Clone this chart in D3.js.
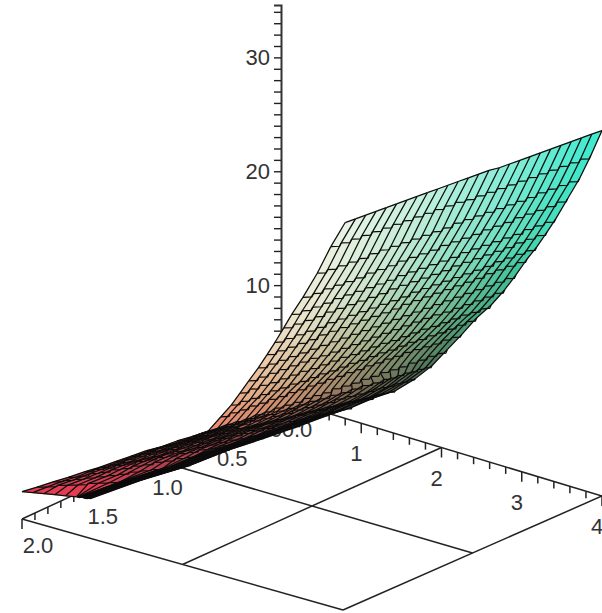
<!DOCTYPE html>
<html>
<head>
<meta charset="utf-8">
<script src="https://cdn.jsdelivr.net/npm/d3@7"></script>
<style>
body { margin: 0; background: #fff; }
text { font-family: "Liberation Sans", Arial, sans-serif; font-size: 22px; fill: #333; }
</style>
</head>
<body>
<div id="plot"></div>
<script>
// tick labels
var xTickLabels = [0, 1, 2, 3, 4];
var yTickLabels = [0.0, 0.5, 1.0, 1.5, 2.0];
var zTickLabels = [10, 20, 30];
var xGridLines = [2, 4];
var yGridLines = [1, 2];

// surface rows: y of each row and the x range it covers
var rowY = [0, 0.08, 0.16, 0.24, 0.32, 0.4, 0.48, 0.56, 0.64, 0.72, 0.8, 0.88, 0.96, 1.04, 1.12, 1.2, 1.28, 1.36, 1.44, 1.52, 1.6, 1.68, 1.76, 1.84, 1.92, 2];
var rowXStart = [0.80, 0.75, 0.71, 0.66, 0.65, 0.68, 0.70, 0.73, 0.75, 0.76, 0.78, 0.80, 0.80, 0.77, 0.70, 0.64, 0.58, 0.51, 0.45, 0.38, 0.32, 0.26, 0.19, 0.13, 0.06, 0];
var rowXEnd = [4.00, 3.99, 3.98, 3.96, 3.94, 3.96, 3.96, 3.97, 3.96, 3.95, 3.91, 3.86, 3.80, 3.75, 3.69, 3.61, 3.49, 3.35, 3.21, 3.05, 2.82, 2.54, 2.20, 1.84, 1.34, 0.85];
// columns that take the first 80% of a row, the rest bunch up at its far end
var rowEvenCols = [20, 20, 20, 20, 20, 20, 20, 20, 20, 20, 20, 20, 20, 20, 18, 18, 18, 17, 17, 16, 15, 14, 12, 10, 8, 5];

// heights, one line per row, 26 columns each
var zGrid = [
  [17.2,17.8,18.4,19.0,19.6,20.2,20.8,21.4,22.0,22.6,23.2,23.8,24.4,25.0,25.6,26.1,26.7,27.3,27.9,28.5,29.1,29.7,30.3,30.9,31.5,32.1],
  [15.4,16.0,16.6,17.2,17.8,18.4,19.0,19.6,20.2,20.8,21.4,22.0,22.6,23.1,23.7,24.3,24.9,25.5,26.1,26.7,27.3,27.9,28.5,29.1,29.7,30.3],
  [13.4,14.0,14.6,15.2,15.8,16.5,17.1,17.7,18.3,18.9,19.5,20.1,20.7,21.4,22.0,22.6,23.2,23.8,24.4,25.0,25.6,26.3,26.9,27.5,28.1,28.7],
  [11.6,12.2,12.9,13.5,14.1,14.7,15.4,16.0,16.6,17.3,17.9,18.5,19.1,19.8,20.4,21.0,21.6,22.3,22.9,23.5,24.2,24.8,25.4,26.0,26.7,27.3],
  [10.5,11.1,11.7,12.3,13.0,13.6,14.2,14.8,15.4,16.0,16.7,17.3,17.9,18.5,19.1,19.7,20.4,21.0,21.6,22.2,22.8,23.4,24.1,24.7,25.3,25.9],
  [9.8,10.4,11.0,11.6,12.3,12.9,13.5,14.1,14.7,15.3,16.0,16.6,17.2,17.8,18.4,19.0,19.7,20.3,20.9,21.5,22.1,22.7,23.4,24.0,24.6,25.2],
  [9.0,9.6,10.2,10.8,11.4,12.1,12.7,13.3,13.9,14.5,15.1,15.7,16.3,17.0,17.6,18.2,18.8,19.4,20.0,20.6,21.2,21.9,22.5,23.1,23.7,24.3],
  [8.4,9.0,9.6,10.2,10.8,11.5,12.1,12.7,13.3,13.9,14.5,15.1,15.7,16.4,17.0,17.6,18.2,18.8,19.4,20.0,20.6,21.3,21.9,22.5,23.1,23.7],
  [7.7,8.3,8.9,9.5,10.1,10.7,11.3,11.9,12.5,13.1,13.7,14.3,14.9,15.5,16.1,16.7,17.3,17.9,18.5,19.1,19.7,20.3,20.9,21.5,22.1,22.7],
  [7.0,7.6,8.2,8.8,9.4,10.0,10.6,11.1,11.7,12.3,12.9,13.5,14.1,14.7,15.3,15.9,16.5,17.1,17.7,18.2,18.8,19.4,20.0,20.6,21.2,21.8],
  [6.4,7.0,7.6,8.1,8.7,9.3,9.9,10.4,11.0,11.6,12.2,12.7,13.3,13.9,14.5,15.0,15.6,16.2,16.8,17.3,17.9,18.5,19.1,19.6,20.2,20.8],
  [5.8,6.4,6.9,7.5,8.1,8.6,9.2,9.7,10.3,10.9,11.4,12.0,12.6,13.1,13.7,14.3,14.8,15.4,16.0,16.5,17.1,17.6,18.2,18.8,19.4,20.0],
  [5.2,5.8,6.3,6.9,7.4,8.0,8.5,9.1,9.6,10.2,10.7,11.3,11.8,12.4,12.9,13.5,14.0,14.6,15.1,15.7,16.2,16.7,17.2,17.8,18.3,18.8],
  [4.3,4.8,5.4,5.9,6.4,7.0,7.5,8.1,8.6,9.1,9.7,10.2,10.7,11.3,11.8,12.3,12.9,13.4,14.0,14.5,15.0,15.6,16.1,16.7,17.2,17.8],
  [4.1,4.7,5.2,5.8,6.3,6.9,7.5,8.0,8.6,9.1,9.7,10.3,10.8,11.4,11.9,12.5,13.1,13.6,14.2,14.5,14.9,15.3,15.6,16.0,16.3,16.7],
  [4.0,4.5,5.0,5.6,6.1,6.6,7.1,7.7,8.2,8.7,9.2,9.8,10.3,10.8,11.3,11.9,12.4,12.9,13.4,13.8,14.1,14.4,14.8,15.1,15.5,15.8],
  [3.8,4.3,4.8,5.3,5.8,6.3,6.8,7.3,7.7,8.2,8.7,9.2,9.7,10.2,10.7,11.2,11.7,12.2,12.7,13.0,13.3,13.6,14.0,14.3,14.6,14.9],
  [3.7,4.2,4.7,5.2,5.7,6.2,6.7,7.2,7.7,8.2,8.7,9.2,9.7,10.2,10.8,11.3,11.8,12.3,12.6,12.8,13.1,13.4,13.6,13.9,14.1,14.4],
  [3.5,4.0,4.5,4.9,5.4,5.9,6.4,6.9,7.3,7.8,8.3,8.8,9.3,9.7,10.2,10.7,11.2,11.7,11.9,12.2,12.4,12.7,12.9,13.2,13.4,13.7],
  [3.3,3.8,4.3,4.8,5.3,5.8,6.2,6.7,7.2,7.7,8.2,8.7,9.2,9.7,10.2,10.7,11.1,11.3,11.6,11.8,12.0,12.2,12.4,12.7,12.9,13.1],
  [3.1,3.6,4.1,4.5,5.0,5.5,6.0,6.5,6.9,7.4,7.9,8.4,8.9,9.3,9.8,10.3,10.5,10.7,10.8,11.0,11.2,11.4,11.6,11.7,11.9,12.1],
  [3.0,3.5,3.9,4.4,4.8,5.3,5.7,6.2,6.6,7.1,7.5,8.0,8.4,8.9,9.3,9.5,9.6,9.7,9.9,10.0,10.2,10.3,10.5,10.6,10.8,10.9],
  [2.8,3.2,3.7,4.1,4.6,5.0,5.5,5.9,6.4,6.8,7.3,7.7,8.2,8.3,8.4,8.5,8.6,8.7,8.8,8.9,9.0,9.1,9.2,9.3,9.4,9.5],
  [2.7,3.1,3.5,3.9,4.3,4.7,5.1,5.6,6.0,6.4,6.8,6.9,6.9,7.0,7.1,7.1,7.2,7.3,7.3,7.4,7.5,7.5,7.6,7.7,7.7,7.8],
  [2.5,2.8,3.2,3.5,3.8,4.2,4.5,4.8,5.1,5.2,5.2,5.3,5.3,5.3,5.4,5.4,5.5,5.5,5.5,5.6,5.6,5.7,5.7,5.7,5.8,5.8],
  [2.4,2.6,2.8,3.0,3.2,3.4,3.4,3.4,3.4,3.4,3.5,3.5,3.5,3.5,3.5,3.5,3.5,3.5,3.5,3.5,3.5,3.6,3.6,3.6,3.6,3.6]
];

var width = 602, height = 613;

var svg = d3.select("#plot")
    .append("svg")
    .attr("width", width)
    .attr("height", height)
    .style("display", "block");

// oblique scales, each one gives the screen offset along its own axis
var xToLeft = d3.scaleLinear().domain([0, 4]).range([0, 321]);
var xToDown = d3.scaleLinear().domain([0, 4]).range([0, 97]);
var yToLeft = d3.scaleLinear().domain([0, 2]).range([0, -259]);
var yToDown = d3.scaleLinear().domain([0, 2]).range([0, 120]);
var zToUp = d3.scaleLinear().domain([0, 34.6]).range([0, -394]);
var originX = 281, originY = 399;

function project(x, y, z) {
    return [originX + xToLeft(x) + yToLeft(y),
            originY + xToDown(x) + yToDown(y) + zToUp(z)];
}

// the floor is very slightly in perspective, the far corner sits higher
function floor(x, y) {
    var p = project(x, y, 0);
    return [p[0], p[1] - 0.75 * x * y];
}

var line = d3.line();

function drawLine(g, a, b, w) {
    g.append("path")
        .attr("d", line([a, b]))
        .attr("fill", "none")
        .attr("stroke", "#222")
        .attr("stroke-width", w || 1.5);
}

var base = svg.append("g");

// floor frame
xGridLines.forEach(function(x) { drawLine(base, floor(x, 0), floor(x, 2)); });
yGridLines.forEach(function(y) { drawLine(base, floor(0, y), floor(4, y)); });
drawLine(base, floor(0, 0), floor(4, 0));
drawLine(base, floor(0, 0), floor(0, 2));

// ticks on the two floor axes
d3.range(0, 21).forEach(function(i) {
    var x = i * 0.2, p = floor(x, 0);
    drawLine(base, p, [p[0], p[1] + (i % 5 == 0 ? 10 : 7)]);
});
d3.range(0, 21).forEach(function(i) {
    var y = i * 0.1, p = floor(0, y);
    drawLine(base, p, [p[0], p[1] + (i % 5 == 0 ? 10 : 7)]);
});

base.selectAll("text.xlab")
    .data(xTickLabels)
    .enter().append("text")
    .attr("class", "xlab")
    .attr("text-anchor", "middle")
    .attr("x", function(d) { return floor(d, 0)[0] - 5; })
    .attr("y", function(d) { return floor(d, 0)[1] + 38; })
    .text(function(d) { return d; });

base.selectAll("text.ylab")
    .data(yTickLabels)
    .enter().append("text")
    .attr("class", "ylab")
    .attr("text-anchor", "middle")
    .attr("x", function(d) { return floor(0, d)[0] + 16; })
    .attr("y", function(d) { return floor(0, d)[1] + 38 - d * 2; })
    .text(function(d) { return d.toFixed(1); });

// z axis with the library axis, ticks every 1
var zScale = d3.scaleLinear().domain([0, 34.6]).range([originY, originY - 394]);
var zAxis = d3.axisLeft(zScale)
    .tickValues(d3.range(0, 35))
    .tickSize(7)
    .tickPadding(4)
    .tickFormat(function(d) { return zTickLabels.indexOf(d) >= 0 ? d : ""; });

var zG = svg.append("g")
    .attr("transform", "translate(" + originX + ",0)")
    .call(zAxis);
zG.select(".domain").attr("stroke", "#333").attr("stroke-width", 2);
zG.selectAll(".tick line").attr("stroke", "#222").attr("stroke-width", 1.4);
zG.selectAll(".tick text").style("font-size", "22px").style("fill", "#333")
    .style("font-family", '"Liberation Sans", Arial, sans-serif');

// shading: red falls with x, green and blue fall with y and a little with x
var redScale = d3.scaleLinear().domain([0, 0.8, 1.8, 3, 4]).range([230, 235, 195, 125, 60]);
var redFade = d3.scaleLinear().domain([0, 1, 1.4, 1.8, 2]).range([1, 1, 0.78, 0.85, 1]);
var greenScale = d3.scaleLinear().domain([0, 0.4, 0.64, 0.88, 1.04, 1.2, 1.6, 2]).range([248, 228, 200, 170, 135, 100, 70, 60]);
var blueScale = d3.scaleLinear().domain([0, 0.4, 0.64, 0.88, 1.04, 1.2, 1.6, 2]).range([238, 205, 170, 135, 110, 85, 75, 85]);
var greenFade = d3.scaleLinear().domain([0, 4]).range([1, 0.95]);
var blueFade = d3.scaleLinear().domain([0, 4]).range([1, 0.88]);

function vertex(r, c) {
    var along = d3.scaleLinear().domain([0, rowEvenCols[r], 25]).range([0, 0.8, 1]);
    var x = rowXStart[r] + (rowXEnd[r] - rowXStart[r]) * along(c);
    return { x: x, y: rowY[r], p: project(x, rowY[r], zGrid[r][c]) };
}

// fills first, far rows before near ones
var fills = svg.append("g");
var wires = svg.append("g");
d3.range(0, 25).forEach(function(r) {
    d3.range(0, 25).forEach(function(c) {
        var a = vertex(r, c), b = vertex(r, c + 1), d = vertex(r + 1, c + 1), e = vertex(r + 1, c);
        var mx = (a.x + b.x + d.x + e.x) / 4, my = (a.y + d.y) / 2;
        var colour = d3.rgb(redScale(mx) * redFade(my), greenScale(my) * greenFade(mx), blueScale(my) * blueFade(mx));
        fills.append("path")
            .attr("d", line([a.p, b.p, d.p, e.p]) + "Z")
            .attr("fill", colour)
            .attr("stroke", colour)
            .attr("stroke-width", 0.6);
    });
});

// the wire lines, inner rows come out stepped where they meet each column
function stepped(a, b) {
    var dx = b[0] - a[0], dy = b[1] - a[1];
    return [a, [a[0] + 0.85 * dx, a[1] + 0.1 * dy], b];
}

d3.range(0, 26).forEach(function(r) {
    d3.range(0, 26).forEach(function(c) {
        var a = vertex(r, c).p;
        if (r < 25) drawWire(line([a, vertex(r + 1, c).p]));
        if (c < 25) {
            var b = vertex(r, c + 1).p;
            drawWire(line(r == 0 || r == 25 ? [a, b] : stepped(a, b)));
        }
    });
});

function drawWire(d) {
    wires.append("path")
        .attr("d", d)
        .attr("fill", "none")
        .attr("stroke", "#0c0c0c")
        .attr("stroke-width", 1.25);
}
</script>
</body>
</html>
